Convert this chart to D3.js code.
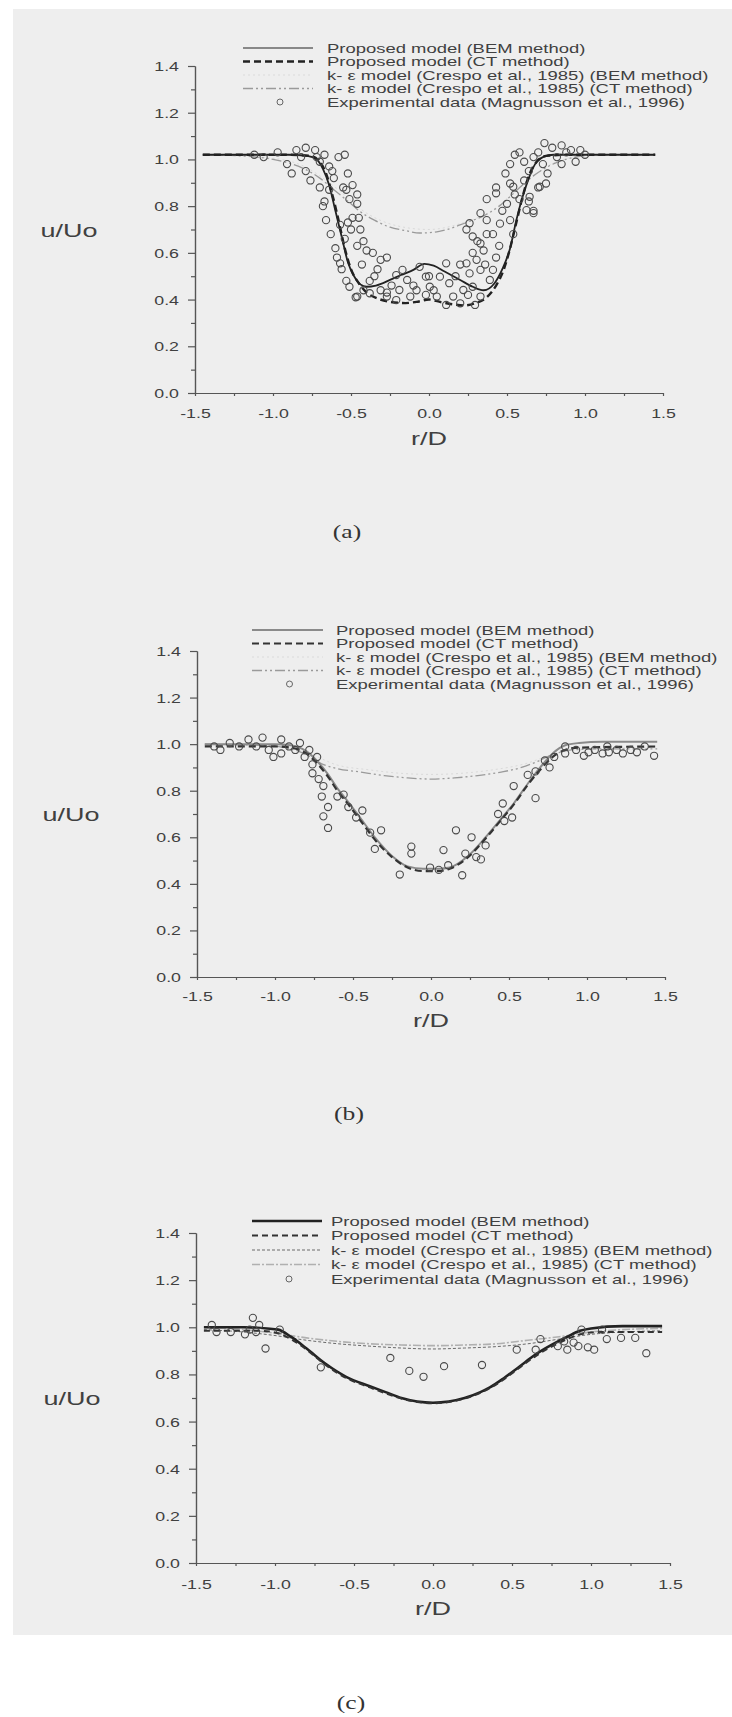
<!DOCTYPE html>
<html>
<head>
<meta charset="utf-8">
<script src="https://cdn.jsdelivr.net/npm/d3@7"></script>
<style>
html, body { margin: 0; padding: 0; background: #fff; }
svg { display: block; }
</style>
</head>
<body>
<svg id="fig" width="732" height="1717"></svg>
<script>
// ---- tick values and labels ----
const xTicks = [-1.5, -1.0, -0.5, 0.0, 0.5, 1.0, 1.5];
const xMinor = [-1.25, -0.75, -0.25, 0.25, 0.75, 1.25];
const yTicks = [0.0, 0.2, 0.4, 0.6, 0.8, 1.0, 1.2, 1.4];
const yMinor = [0.1, 0.3, 0.5, 0.7, 0.9, 1.1, 1.3];
const xTitle = "r/D";
const yTitle = "u/Uo";
const panelLetters = ["(a)", "(b)", "(c)"];
const legendLabels = [
    "Proposed model (BEM method)",
    "Proposed model (CT method)",
    "k- \u03b5 model (Crespo et al., 1985) (BEM method)",
    "k- \u03b5 model (Crespo et al., 1985) (CT method)",
    "Experimental data (Magnusson et al., 1996)"
];

// ---- panel (a) ----
const aBem = [[-1.45,1.02],[-1.2,1.02],[-0.9,1.02],[-0.78,1.015],[-0.72,1.0],[-0.68,0.96],[-0.64,0.89],[-0.6,0.78],
    [-0.56,0.67],[-0.52,0.56],[-0.48,0.5],[-0.44,0.465],[-0.4,0.455],[-0.34,0.46],[-0.25,0.484],[-0.18,0.505],
    [-0.1,0.527],[-0.03,0.553],[0.03,0.545],[0.1,0.52],[0.2,0.484],[0.28,0.455],[0.35,0.44],[0.42,0.47],
    [0.47,0.53],[0.52,0.62],[0.56,0.74],[0.6,0.84],[0.64,0.92],[0.68,0.98],[0.73,1.01],[0.8,1.02],[1.0,1.02],[1.45,1.02]];
const aCt = [[-1.45,1.02],[-0.9,1.02],[-0.76,1.015],[-0.7,0.99],[-0.66,0.94],[-0.62,0.85],[-0.58,0.74],[-0.54,0.62],
    [-0.5,0.53],[-0.45,0.47],[-0.4,0.43],[-0.33,0.405],[-0.25,0.39],[-0.15,0.385],[-0.08,0.39],[0,0.4],[0.07,0.39],
    [0.15,0.38],[0.22,0.375],[0.3,0.385],[0.37,0.41],[0.43,0.46],[0.48,0.53],[0.52,0.62],[0.56,0.73],[0.6,0.84],
    [0.64,0.93],[0.69,0.99],[0.75,1.015],[0.9,1.02],[1.45,1.02]];
const aKeBem = [[-1.45,1.02],[-1.0,1.005],[-0.8,0.97],[-0.6,0.88],[-0.4,0.77],[-0.2,0.715],[0,0.70],[0.2,0.725],
    [0.4,0.78],[0.6,0.89],[0.8,0.985],[1.0,1.015],[1.45,1.02]];
const aKeCt = [[-1.45,1.02],[-1.2,1.015],[-1.0,1.0],[-0.9,0.985],[-0.8,0.96],[-0.7,0.92],[-0.6,0.865],[-0.5,0.81],
    [-0.44,0.776],[-0.35,0.74],[-0.25,0.71],[-0.15,0.695],[-0.06,0.685],[0.05,0.69],[0.115,0.70],[0.24,0.73],
    [0.34,0.755],[0.45,0.8],[0.55,0.86],[0.65,0.92],[0.75,0.965],[0.85,0.995],[1.0,1.015],[1.2,1.02],[1.45,1.02]];
const aExp = [
    [-1.12,1.02],[-1.06,1.01],[-0.97,1.03],[-0.91,0.98],[-0.85,1.04],[-0.82,1.01],[-0.79,1.05],[-0.73,1.04],[-0.70,0.99],
    [-0.67,1.02],[-0.58,1.01],[-0.54,1.02],[-0.88,0.94],[-0.79,0.95],[-0.76,0.91],[-0.64,0.97],[-0.61,0.92],[-0.52,0.94],
    [-0.55,0.88],[-0.49,0.89],[-0.64,0.87],[-0.67,0.82],[-0.46,0.85],[-0.70,0.88],[-0.53,0.87],[-0.51,0.83],[-0.46,0.81],
    [-0.68,0.80],[-0.66,0.74],[-0.63,0.68],[-0.59,0.58],[-0.56,0.53],[-0.53,0.48],[-0.51,0.455],[-0.47,0.41],
    [-0.49,0.75],[-0.44,0.70],[-0.42,0.65],[-0.46,0.63],[-0.40,0.61],[-0.52,0.73],[-0.54,0.66],[-0.57,0.555],
    [-0.36,0.60],[-0.31,0.57],[-0.27,0.58],[-0.33,0.53],[-0.38,0.48],[-0.31,0.44],[-0.27,0.43],[-0.21,0.505],
    [-0.17,0.527],[-0.14,0.484],[-0.19,0.441],[-0.12,0.413],[-0.08,0.44],[-0.06,0.54],[-0.02,0.498],[0.005,0.455],
    [0.05,0.413],[0.07,0.498],[0.11,0.555],[0.13,0.47],[0.155,0.413],[0.2,0.384],[0.11,0.377],[0.24,0.555],
    [0.26,0.512],[0.305,0.57],[0.33,0.527],[0.28,0.455],[0.33,0.413],[0.295,0.377],[0.22,0.441],[-0.02,0.42],
    [-0.21,0.398],[-0.27,0.413],[-0.38,0.427],[-0.46,0.413],
    [0.24,0.70],[0.28,0.67],[0.33,0.64],[0.35,0.61],[0.37,0.74],[0.41,0.68],[0.43,0.58],[0.41,0.527],[0.39,0.484],
    [0.37,0.83],[0.43,0.855],[0.5,0.81],[0.52,0.74],[0.54,0.68],[0.455,0.725],[0.54,0.883],[0.58,0.83],[0.625,0.783],
    [0.67,0.77],[0.645,0.84],[0.71,0.883],[0.75,0.897],[0.52,0.897],[0.33,0.77],[0.26,0.727],[0.37,0.68],
    [0.58,1.03],[0.67,1.01],[0.74,1.07],[0.79,1.05],[0.85,1.06],[0.91,1.04],[0.97,1.04],[0.82,1.01],[0.73,0.98],
    [0.64,0.95],[0.61,0.91],[0.70,0.88],[0.76,0.94],[0.85,0.98],[0.55,0.85],[0.64,0.82],[0.67,0.78],[0.52,0.98],
    [0.55,1.02],[0.49,0.94],[0.43,0.88],[0.94,0.99],[0.61,0.99],
    [-0.6,0.62],[-0.57,0.72],[-0.5,0.7],[-0.45,0.75],[-0.43,0.55],[-0.35,0.5],[-0.24,0.46],[-0.1,0.46],[0.0,0.5],
    [0.03,0.44],[0.17,0.5],[0.2,0.55],[0.28,0.6],[0.31,0.65],[0.45,0.63],[0.47,0.78],[0.36,0.55],[0.25,0.42],
    [-0.42,0.44],[-0.62,0.95],[-0.72,1.01],[0.70,1.03],[0.88,1.03],[1.0,1.02]
];

// ---- panel (b) ----
const bBem = [[-1.45,1.0],[-1.2,1.0],[-1.0,1.0],[-0.9,0.995],[-0.8,0.97],[-0.72,0.92],[-0.66,0.87],[-0.6,0.81],
    [-0.54,0.76],[-0.45,0.68],[-0.36,0.6],[-0.25,0.52],[-0.15,0.475],[-0.05,0.465],[0.05,0.465],[0.12,0.47],
    [0.23,0.515],[0.35,0.6],[0.45,0.68],[0.53,0.745],[0.62,0.83],[0.7,0.9],[0.78,0.96],[0.86,0.995],[0.95,1.005],
    [1.1,1.01],[1.45,1.01]];
const bCt = [[-1.45,0.99],[-1.0,0.99],[-0.9,0.985],[-0.8,0.96],[-0.72,0.91],[-0.66,0.86],[-0.6,0.80],[-0.54,0.75],
    [-0.45,0.67],[-0.36,0.59],[-0.25,0.515],[-0.15,0.47],[-0.05,0.455],[0.05,0.455],[0.12,0.465],[0.23,0.51],
    [0.35,0.595],[0.45,0.675],[0.53,0.74],[0.62,0.825],[0.7,0.89],[0.78,0.945],[0.86,0.975],[0.95,0.985],[1.45,0.99]];
const bKeBem = [[-1.45,1.0],[-1.0,0.99],[-0.8,0.965],[-0.6,0.91],[-0.4,0.89],[-0.2,0.875],[0,0.87],[0.2,0.875],
    [0.4,0.89],[0.6,0.915],[0.8,0.96],[1.0,0.98],[1.45,0.985]];
const bKeCt = [[-1.45,1.0],[-1.1,0.995],[-0.9,0.98],[-0.8,0.955],[-0.7,0.915],[-0.6,0.895],[-0.45,0.88],[-0.3,0.865],
    [-0.15,0.855],[0,0.85],[0.15,0.855],[0.3,0.865],[0.45,0.88],[0.58,0.9],[0.68,0.925],[0.78,0.955],[0.9,0.975],
    [1.1,0.98],[1.45,0.98]];
const bExp = [
    [-1.39,0.99],[-1.35,0.975],[-1.29,1.005],[-1.23,0.99],[-1.17,1.02],[-1.12,0.99],[-1.08,1.028],[-1.04,0.975],
    [-1.01,0.945],[-0.96,1.02],[-0.96,0.96],[-0.91,0.99],[-0.87,0.975],[-0.84,1.005],[-0.81,0.945],[-0.78,0.975],
    [-0.76,0.913],[-0.73,0.945],[-0.76,0.875],[-0.72,0.85],[-0.69,0.82],[-0.70,0.775],[-0.66,0.73],[-0.69,0.69],
    [-0.66,0.64],[-0.60,0.775],[-0.56,0.783],[-0.53,0.73],[-0.48,0.685],[-0.44,0.715],[-0.39,0.62],[-0.36,0.55],
    [-0.32,0.63],[-0.20,0.44],[-0.126,0.56],[-0.126,0.53],[-0.006,0.47],[0.05,0.46],[0.08,0.545],[0.11,0.48],
    [0.16,0.63],[0.20,0.437],[0.22,0.53],[0.26,0.60],[0.29,0.515],[0.32,0.505],[0.35,0.565],[0.43,0.70],
    [0.46,0.745],[0.47,0.67],[0.52,0.685],[0.53,0.82],[0.62,0.868],[0.67,0.768],[0.67,0.883],[0.73,0.93],
    [0.76,0.9],[0.79,0.945],[0.86,0.96],[0.93,0.975],[0.98,0.95],[1.01,0.965],[1.05,0.975],[1.10,0.96],
    [1.14,0.965],[1.19,0.975],[1.23,0.96],[1.28,0.975],[1.32,0.965],[1.37,0.99],[1.43,0.95],[0.86,0.99],[1.13,0.99]
];

// ---- panel (c) ----
const cBem = [[-1.45,1.0],[-1.2,1.0],[-1.05,0.995],[-0.98,0.99],[-0.9,0.96],[-0.8,0.91],[-0.68,0.845],[-0.55,0.79],
    [-0.4,0.75],[-0.3,0.725],[-0.2,0.7],[-0.1,0.685],[0,0.68],[0.1,0.685],[0.2,0.7],[0.3,0.725],[0.36,0.745],
    [0.45,0.785],[0.55,0.835],[0.65,0.885],[0.75,0.925],[0.85,0.96],[0.93,0.985],[1.0,0.995],[1.2,1.005],[1.45,1.005]];
const cCt = [[-1.45,0.985],[-1.1,0.985],[-0.98,0.975],[-0.9,0.95],[-0.8,0.905],[-0.68,0.84],[-0.55,0.785],
    [-0.4,0.745],[-0.3,0.72],[-0.2,0.698],[-0.1,0.683],[0,0.678],[0.1,0.683],[0.2,0.698],[0.3,0.722],[0.36,0.742],
    [0.45,0.78],[0.55,0.83],[0.65,0.878],[0.75,0.918],[0.85,0.95],[0.93,0.97],[1.05,0.98],[1.45,0.98]];
const cKeBem = [[-1.45,0.99],[-1.2,0.98],[-1.0,0.965],[-0.8,0.945],[-0.6,0.93],[-0.4,0.92],[-0.2,0.912],[0,0.908],
    [0.2,0.912],[0.4,0.918],[0.6,0.93],[0.8,0.95],[1.0,0.97],[1.2,0.98],[1.45,0.985]];
const cKeCt = [[-1.45,1.0],[-1.2,0.99],[-1.0,0.975],[-0.8,0.955],[-0.6,0.94],[-0.4,0.93],[-0.2,0.925],[0,0.922],
    [0.2,0.925],[0.4,0.93],[0.6,0.945],[0.8,0.96],[1.0,0.98],[1.2,0.99],[1.45,0.995]];
const cExp = [
    [-1.40,1.01],[-1.37,0.98],[-1.28,0.98],[-1.19,0.97],[-1.16,0.99],[-1.14,1.04],[-1.10,1.01],[-1.12,0.98],
    [-1.06,0.91],[-0.97,0.99],[-0.71,0.83],[-0.27,0.87],[-0.15,0.815],[-0.06,0.79],[0.07,0.835],[0.31,0.84],
    [0.53,0.905],[0.68,0.95],[0.79,0.92],[0.85,0.905],[0.89,0.935],[0.94,0.99],[0.92,0.92],[0.98,0.915],
    [1.02,0.905],[1.07,0.99],[1.10,0.95],[1.19,0.955],[1.28,0.955],[1.35,0.89],[0.65,0.905],[0.83,0.94]
];

// ---- layout & styles (not data) ----
const SX = 1.42;   // the scanned figure is stretched sideways
const SANS = "'Liberation Sans', Arial, sans-serif";
const SERIF = "'Liberation Serif', 'Times New Roman', serif";
const INK = "#404040";

const panels = [
    {x0: 195, x1: 663, yTop: 66, yBot: 393, legX0: 243, legX1: 313, legTX: 327, legY0: 48, legDy: 13.5,
     tickDy: 24.5, titleX: 69, rdY: 445, letterX: 347, letterY: 538,
     series: [aBem, aCt, aKeBem, aKeCt], exp: aExp,
     styles: [
        {stroke: "#222", width: 1.8, dash: null, legWidth: 1},
        {stroke: "#222", width: 2.4, dash: "7,4", legWidth: 2.4},
        {stroke: "#dadada", width: 1, dash: "2,3", legWidth: 1},
        {stroke: "#9a9a9a", width: 1.3, dash: "10,3,2,3,2,3", legWidth: 1.3}]},
    {x0: 197, x1: 665, yTop: 651, yBot: 977, legX0: 252, legX1: 323, legTX: 336, legY0: 630, legDy: 13.5,
     tickDy: 23.5, titleX: 71, rdY: 1027, letterX: 349, letterY: 1120,
     series: [bBem, bCt, bKeBem, bKeCt], exp: bExp,
     styles: [
        {stroke: "#8a8a8a", width: 2, dash: null, legWidth: 2},
        {stroke: "#333", width: 2.2, dash: "7,4", legWidth: 2.2},
        {stroke: "#dadada", width: 1, dash: "2,3", legWidth: 1},
        {stroke: "#9a9a9a", width: 1.3, dash: "10,3,2,3,2,3", legWidth: 1.3}]},
    {x0: 196, x1: 670, yTop: 1233, yBot: 1563, legX0: 252, legX1: 322, legTX: 331, legY0: 1221, legDy: 14.5,
     tickDy: 25.5, titleX: 72, rdY: 1615, letterX: 351, letterY: 1709,
     series: [cBem, cCt, cKeBem, cKeCt], exp: cExp,
     styles: [
        {stroke: "#222", width: 2.6, dash: null, legWidth: 2.6},
        {stroke: "#333", width: 2, dash: "6,4", legWidth: 2},
        {stroke: "#6a6a6a", width: 1, dash: "3,2", legWidth: 1},
        {stroke: "#b0b0b0", width: 1.6, dash: "8,2,2,2", legWidth: 1.6}]}
];

const svg = d3.select("#fig");

// scanned page: grey sheet on white
svg.append("rect").attr("x", 13).attr("y", 9).attr("width", 719).attr("height", 1626).attr("fill", "#eeeeee");

function styleAxis(sel) {
    sel.attr("font-family", SANS).attr("font-size", 12.5);
    sel.select(".domain").attr("stroke", "#555").attr("stroke-width", 1.2);
    sel.selectAll(".tick line").attr("stroke", "#555").attr("stroke-width", 1.2);
    sel.selectAll(".tick text").attr("fill", INK);
}

function stretched(g, x, y, txt, size, family, anchor) {
    return g.append("text")
        .attr("transform", `translate(${x},${y}) scale(${SX},1)`)
        .attr("text-anchor", anchor || "start")
        .attr("font-family", family || SANS)
        .attr("font-size", size)
        .attr("fill", INK)
        .text(txt);
}

panels.forEach(function (p, i) {
    const x = d3.scaleLinear().domain([-1.5, 1.5]).range([p.x0, p.x1]);
    const y = d3.scaleLinear().domain([0, 1.4]).range([p.yBot, p.yTop]);
    const g = svg.append("g");

    // y axis: minor ticks then labelled ones
    g.append("g").attr("transform", `translate(${p.x0},0)`)
        .call(d3.axisLeft(y).tickValues(yMinor).tickSize(4).tickSizeOuter(0).tickFormat(""))
        .call(styleAxis);
    const ya = g.append("g").attr("transform", `translate(${p.x0},0)`)
        .call(d3.axisLeft(y).tickValues(yTicks).tickSize(7).tickSizeOuter(0).tickFormat(d => d.toFixed(1)))
        .call(styleAxis);
    ya.selectAll(".tick text").attr("x", null).attr("dy", null)
        .attr("text-anchor", "end")
        .attr("transform", `translate(-16,4.5) scale(${SX},1)`);

    // x axis
    g.append("g").attr("transform", `translate(0,${p.yBot})`)
        .call(d3.axisBottom(x).tickValues(xMinor).tickSize(3).tickSizeOuter(0).tickFormat(""))
        .call(styleAxis);
    const xa = g.append("g").attr("transform", `translate(0,${p.yBot})`)
        .call(d3.axisBottom(x).tickValues(xTicks).tickSize(3).tickSizeOuter(0).tickFormat(d => d.toFixed(1)))
        .call(styleAxis);
    xa.selectAll(".tick text").attr("y", null).attr("dy", null)
        .attr("transform", `translate(0,${p.tickDy}) scale(${SX},1)`);

    // model curves
    const line = d3.line().x(d => x(d[0])).y(d => y(d[1])).curve(d3.curveMonotoneX);
    [2, 3, 0, 1].forEach(function (k) {
        const s = p.styles[k];
        g.append("path")
            .datum(p.series[k])
            .attr("d", line)
            .attr("fill", "none")
            .attr("stroke", s.stroke)
            .attr("stroke-width", s.width)
            .attr("stroke-dasharray", s.dash);
    });

    // measurements
    g.append("g").selectAll("circle")
        .data(p.exp)
        .enter().append("circle")
        .attr("cx", d => x(d[0]))
        .attr("cy", d => y(d[1]))
        .attr("r", 3.6)
        .attr("fill", "none")
        .attr("stroke", "#4a4a4a")
        .attr("stroke-width", 1.1);

    // legend
    const leg = g.append("g");
    legendLabels.forEach(function (lab, k) {
        const ly = p.legY0 + k * p.legDy;
        if (k < 4) {
            const s = p.styles[k];
            leg.append("line")
                .attr("x1", p.legX0).attr("x2", p.legX1)
                .attr("y1", ly).attr("y2", ly)
                .attr("stroke", s.stroke)
                .attr("stroke-width", s.legWidth)
                .attr("stroke-dasharray", s.dash);
        } else {
            leg.append("circle")
                .attr("cx", (p.legX0 + p.legX1) / 2 + 2).attr("cy", ly)
                .attr("r", 3).attr("fill", "none")
                .attr("stroke", "#666").attr("stroke-width", 1);
        }
        stretched(leg, p.legTX, ly + 4.5, lab, 13);
    });

    // titles
    stretched(g, p.titleX, (p.yTop + p.yBot) / 2 + 7, yTitle, 19, SANS, "middle");
    stretched(g, (p.x0 + p.x1) / 2, p.rdY, xTitle, 19, SANS, "middle");
    stretched(g, p.letterX, p.letterY, panelLetters[i], 18, SERIF, "middle").attr("fill", "#333");
});
</script>
</body>
</html>
